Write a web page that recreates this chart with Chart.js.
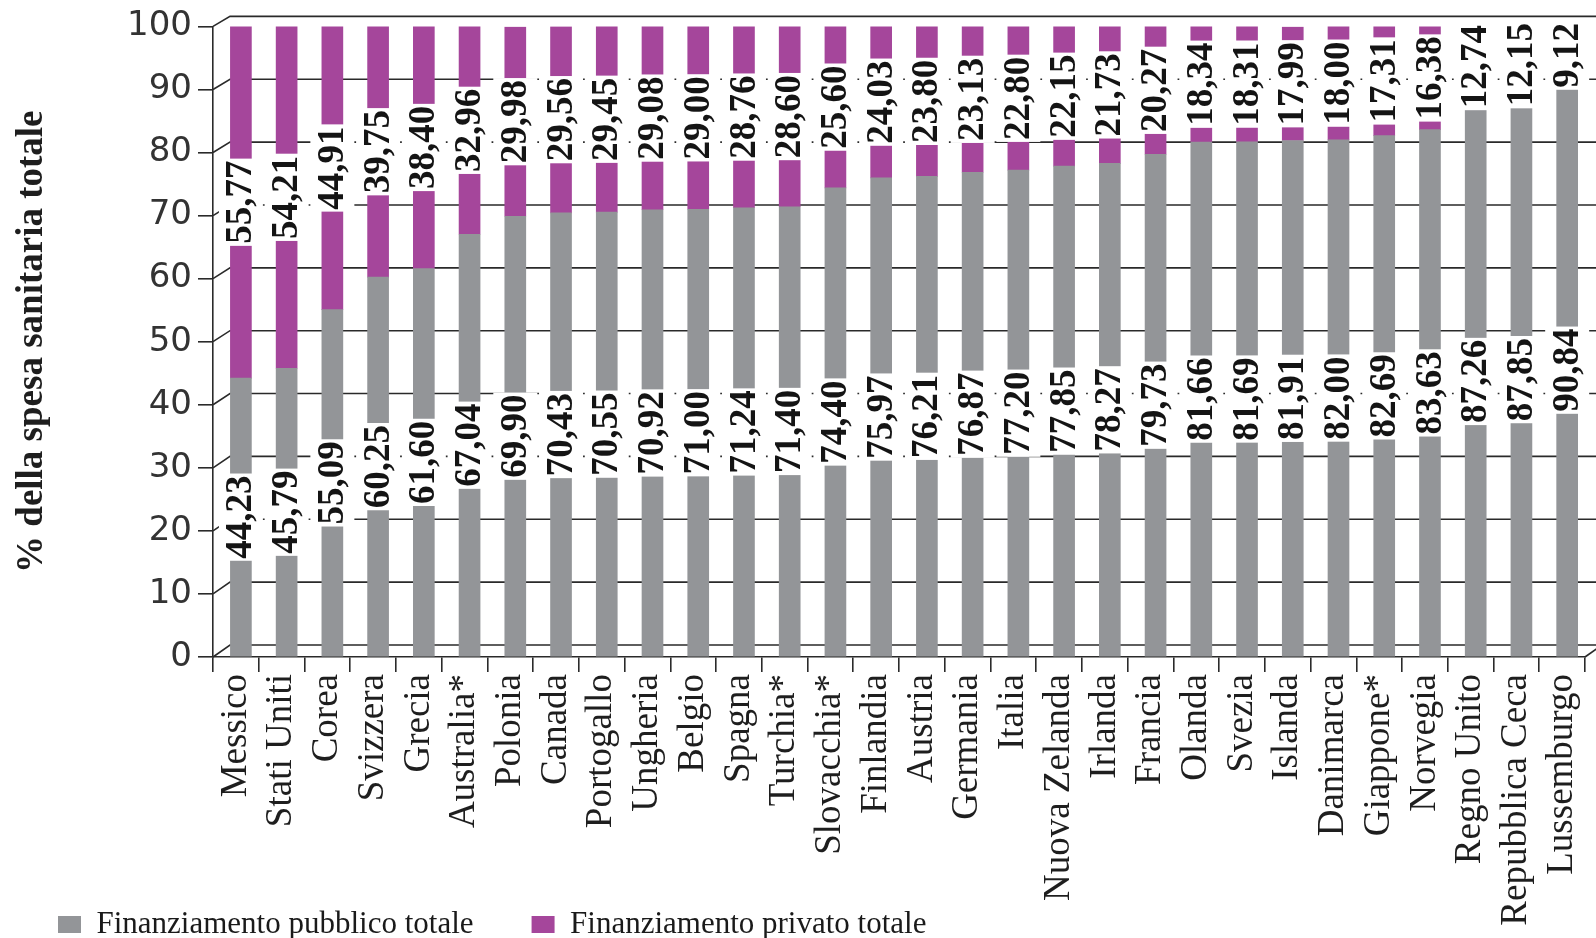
<!DOCTYPE html>
<html lang="it">
<head>
<meta charset="utf-8">
<title>Finanziamento della spesa sanitaria</title>
<script src="https://cdn.jsdelivr.net/npm/chart.js@4.4.1/dist/chart.umd.min.js"></script>
<style>
  html, body { margin: 0; padding: 0; background: #ffffff; }
  #wrap { width: 1596px; height: 938px; }
  canvas { display: block; }
</style>
</head>
<body>
<div id="wrap"><canvas id="chart" width="1596" height="938"></canvas></div>
<script>
// Paesi OCSE, ordinati per quota di finanziamento pubblico
const categories = [
  'Messico', 'Stati Uniti', 'Corea', 'Svizzera', 'Grecia', 'Australia*',
  'Polonia', 'Canada', 'Portogallo', 'Ungheria', 'Belgio', 'Spagna',
  'Turchia*', 'Slovacchia*', 'Finlandia', 'Austria', 'Germania', 'Italia',
  'Nuova Zelanda', 'Irlanda', 'Francia', 'Olanda', 'Svezia', 'Islanda',
  'Danimarca', 'Giappone*', 'Norvegia', 'Regno Unito', 'Repubblica Ceca', 'Lussemburgo'
];

// % della spesa sanitaria totale
const publicShare = [
  44.23, 45.79, 55.09, 60.25, 61.60, 67.04,
  69.90, 70.43, 70.55, 70.92, 71.00, 71.24,
  71.40, 74.40, 75.97, 76.21, 76.87, 77.20,
  77.85, 78.27, 79.73, 81.66, 81.69, 81.91,
  82.00, 82.69, 83.63, 87.26, 87.85, 90.84
];
const privateShare = [
  55.77, 54.21, 44.91, 39.75, 38.40, 32.96,
  29.98, 29.56, 29.45, 29.08, 29.00, 28.76,
  28.60, 25.60, 24.03, 23.80, 23.13, 22.80,
  22.15, 21.73, 20.27, 18.34, 18.31, 17.99,
  18.00, 17.31, 16.38, 12.74, 12.15, 9.12
];

const yTickValues = [0, 10, 20, 30, 40, 50, 60, 70, 80, 90, 100];
const seriesNames = ['Finanziamento pubblico totale', 'Finanziamento privato totale'];

const GRAY = '#939598';
const PURPLE = '#a5469b';
const INK = '#2a2a2a';
const SERIF = '"Liberation Serif", "Times New Roman", serif';
const SANS = '"DejaVu Sans", "Liberation Sans", sans-serif';

// pseudo-3D depth: back wall is shifted right and up from the front axes
const DEPTH_X = 17;
const backLift = v => 12 - v * 0.02;
// bars sit a little behind the front edge, so they read slightly to the right
const BAR_SHIFT = 0.11;

const fmt = v => v.toFixed(2).replace('.', ',');

// back wall grid lines with their slanted connectors to the front axis
const backWall = {
  id: 'backWall',
  afterLayout(chart) {
    // category names hang below the (compact) axis box; let them show in full
    chart.scales.x.bottom = chart.height;
  },
  beforeDatasetsDraw(chart) {
    const { ctx, chartArea, scales } = chart;
    const y = scales.y;
    ctx.save();
    ctx.strokeStyle = INK;
    ctx.lineWidth = 1.6;
    const x0 = chartArea.left;
    yTickValues.forEach(v => {
      const yf = y.getPixelForValue(v);
      const yb = yf - backLift(v);
      ctx.beginPath();
      ctx.moveTo(x0, yf);
      ctx.lineTo(x0 + DEPTH_X, yb);
      ctx.lineTo(chart.width, yb);
      ctx.stroke();
    });
    const y0 = y.getPixelForValue(0);
    ctx.beginPath();
    ctx.moveTo(chartArea.right, y0);
    ctx.lineTo(chartArea.right + DEPTH_X, y0 - backLift(0));
    ctx.stroke();
    ctx.restore();
  }
};

// vertical value labels on white plates, centred in each segment
const valueLabels = {
  id: 'valueLabels',
  afterDatasetsDraw(chart) {
    const { ctx } = chart;
    ctx.save();
    ctx.font = 'bold 37px ' + SERIF;
    ctx.textAlign = 'center';
    ctx.textBaseline = 'middle';
    const items = [];
    chart.data.datasets.forEach((ds, di) => {
      const meta = chart.getDatasetMeta(di);
      meta.data.forEach((bar, i) => {
        const text = fmt(ds.data[i].y);
        const w = ctx.measureText(text).width;
        items.push({ x: bar.x, cy: (bar.y + bar.base) / 2, text, w });
      });
    });
    ctx.fillStyle = '#ffffff';
    items.forEach(it => ctx.fillRect(it.x - 22, it.cy - it.w / 2 - 2, 44, it.w + 4));
    ctx.fillStyle = '#141414';
    items.forEach(it => {
      ctx.save();
      ctx.translate(it.x, it.cy);
      ctx.rotate(-Math.PI / 2);
      ctx.fillText(it.text, 0, 1);
      ctx.restore();
    });
    ctx.restore();
  }
};

new Chart(document.getElementById('chart'), {
  type: 'bar',
  data: {
    labels: categories,
    datasets: [
      {
        label: seriesNames[0],
        data: publicShare.map((v, i) => ({ x: i, y: v })),
        backgroundColor: GRAY,
        xAxisID: 'xb',
        yAxisID: 'y',
        barThickness: 21
      },
      {
        label: seriesNames[1],
        data: privateShare.map((v, i) => ({ x: i, y: v })),
        backgroundColor: PURPLE,
        xAxisID: 'xb',
        yAxisID: 'y',
        barThickness: 21
      }
    ]
  },
  options: {
    responsive: false,
    animation: false,
    devicePixelRatio: 1,
    layout: { padding: { left: 0, right: 11, top: 24, bottom: -12 } },
    plugins: {
      legend: {
        position: 'bottom',
        align: 'start',
        labels: {
          boxWidth: 23,
          boxHeight: 17,
          padding: 58,
          color: '#1a1a1a',
          font: { family: SERIF, size: 31 }
        }
      },
      tooltip: { enabled: false }
    },
    scales: {
      x: {
        type: 'category',
        position: 'bottom',
        offset: true,
        grid: { offset: true, drawOnChartArea: false, drawTicks: true, tickLength: 15, color: INK, lineWidth: 1.6 },
        border: { display: true, color: INK, width: 1.6 },
        ticks: {
          autoSkip: false, maxRotation: 90, minRotation: 90, padding: 2,
          color: '#1e1e1e', font: { family: SERIF, size: 37 }
        },
        afterFit: s => { s.height = 194; s.paddingLeft = 0; s.paddingRight = 0; }
      },
      xb: {
        type: 'linear',
        display: false,
        stacked: true,
        offset: false,
        min: -0.5 - BAR_SHIFT,
        max: categories.length - 0.5 - BAR_SHIFT
      },
      y: {
        type: 'linear',
        position: 'left',
        stacked: true,
        min: 0,
        max: 100,
        afterBuildTicks: s => { s.ticks = yTickValues.map(v => ({ value: v })); },
        grid: { drawOnChartArea: false, drawTicks: true, tickLength: 15, color: INK, lineWidth: 1.6 },
        border: { display: true, color: INK, width: 1.6 },
        ticks: { padding: 6, color: '#333333', font: { family: SANS, size: 34 } },
        title: {
          display: true,
          text: '% della spesa sanitaria totale',
          color: '#1e1e1e',
          font: { family: SERIF, size: 37, weight: 'bold' },
          padding: { top: 10, bottom: 0 }
        },
        afterFit: s => { s.width = 213; }
      }
    }
  },
  plugins: [backWall, valueLabels]
});
</script>
</body>
</html>
